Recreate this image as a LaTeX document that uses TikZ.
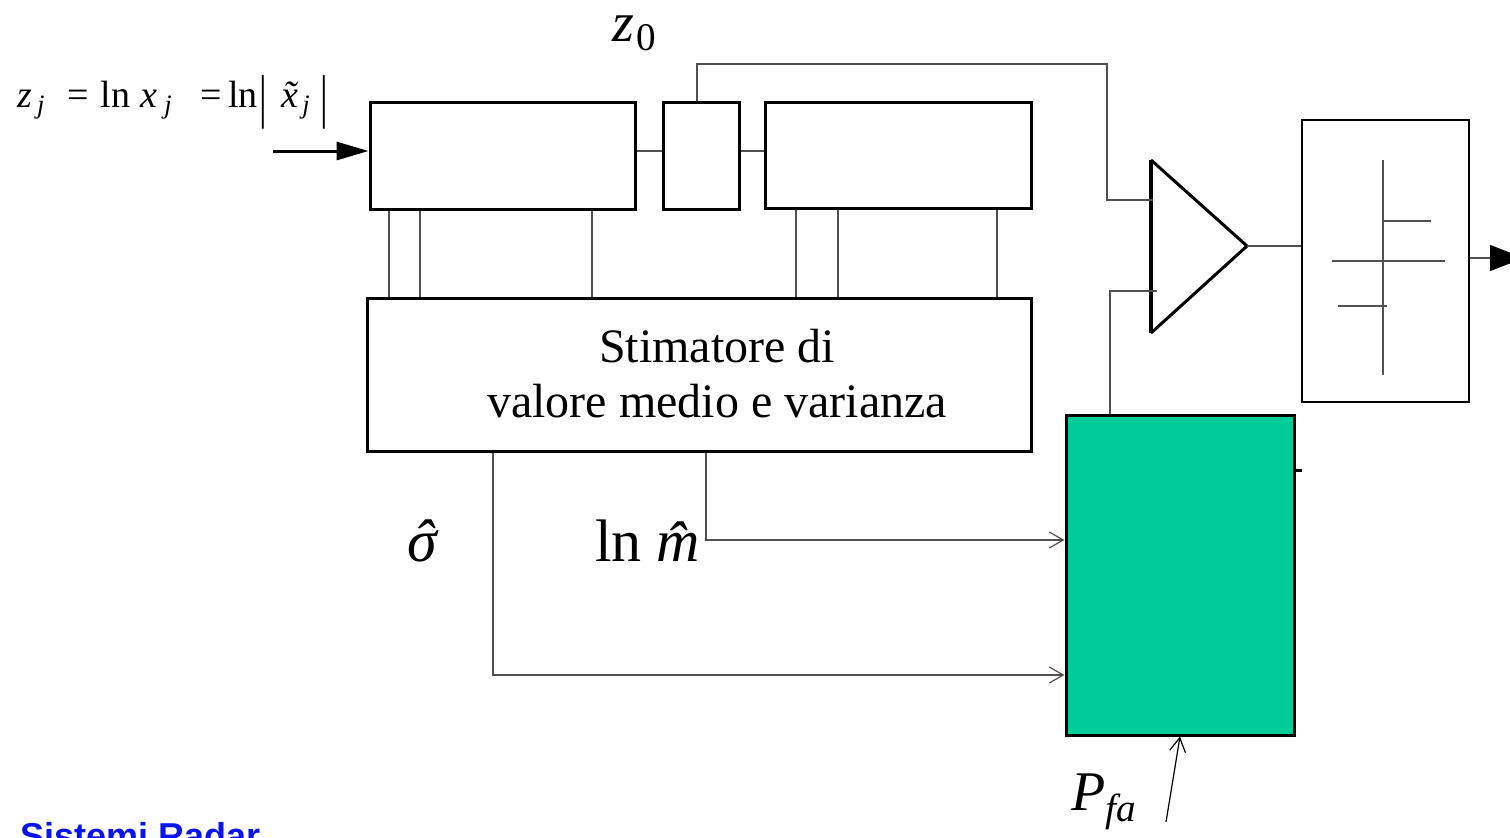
\documentclass[tikz,border=0pt]{standalone}
\usepackage{fontspec}
\setmainfont{Liberation Serif}
\newfontfamily\sansb{Liberation Sans}
\usepackage{graphicx}
\usetikzlibrary{arrows.meta,calc}
\definecolor{gfill}{HTML}{00CC99}
\definecolor{thinc}{HTML}{505050}
\definecolor{radarblue}{HTML}{0A14F0}
\newcommand{\tallbar}{\raisebox{-0.22em}{\scalebox{1}[1.55]{|}}}
\begin{document}
\begin{tikzpicture}[x=0.5pt,y=-0.5pt,
  blk/.style={draw, line width=1.5pt, inner sep=0pt},
  thinbox/.style={draw, line width=0.7pt, inner sep=0pt},
  thinl/.style={draw=thinc, line width=0.6pt},
  openarr/.style={thinl, -{Straight Barb[length=7pt,width=8pt]}},
  lbl/.style={inner sep=0pt}]
\useasboundingbox (0,0) rectangle (1510,837);
% blocks
\node[blk, minimum width=132.5pt, minimum height=53.5pt] (A) at (502.5,155.5) {};
\node[blk, minimum width=38pt, minimum height=53.5pt] (B) at (701,155.5) {};
\node[blk, minimum width=133pt, minimum height=53pt] (C) at (898,155) {};
\node[blk, minimum width=332pt, minimum height=76.5pt] (S) at (699,374.5) {};
\node[lbl, align=center, font=\fontsize{24}{27.5}\selectfont] (St) at (717,374) {Stimatore di\\valore medio e varianza};
\node[blk, fill=gfill, minimum width=114pt, minimum height=160pt] (G) at (1180,575) {};
\node[thinbox, minimum width=83.5pt, minimum height=141pt] (D) at (1385.5,261) {};
% comparator triangle
\coordinate (T1) at (1151,160);
\coordinate (T2) at (1151,333);
\coordinate (Tap) at (1247,246);
\coordinate (tin1) at (1153,200);
\coordinate (tin2) at (1157,291);
\draw[line width=2pt] (T1) -- (T2);
\draw[line width=1.5pt] (T1) -- (Tap) -- (T2);
% staircase symbol inside D
\draw[thinl] (1383,160) -- (1383,375);
\draw[thinl] (1383,221) -- (1431,221);
\draw[thinl] (1332,261) -- (1445,261);
\draw[thinl] (1338,306) -- (1387,306);
% labels
\node[lbl, anchor=west, font=\fontsize{19}{21}\selectfont] (eq) at (17,102)
  {\textit{z}\hspace{2.5pt}\textsubscript{\textit{j}}\hspace{11pt}=\hspace{6pt}ln\hspace{5pt}\textit{x}\hspace{3.5pt}\textsubscript{\textit{j}}\hspace{14pt}=\hspace{3pt}ln\hspace{1pt}\tallbar\hspace{7pt}\textit{x\llap{˜\hspace{0.06em}}}\hspace{2pt}\textsubscript{\textit{j}}\hspace{5pt}\tallbar};
\node[lbl, font=\fontsize{28}{30}\selectfont] (z0) at (635,33) {\textit{z}\hspace{1pt}\textsubscript{0}};
\node[lbl, font=\fontsize{30}{32}\selectfont] (sig) at (422,541) {\textit{σ\llap{ˆ\hspace{0.06em}}}};
\node[lbl, font=\fontsize{30}{32}\selectfont] (lnm) at (659,541) {ln \textit{m̂}};
\node[lbl, font=\fontsize{28}{30}\selectfont] (pfa) at (1104,802) {\textit{P}\textsubscript{\textit{fa}}};
\node[anchor=north west, inner sep=0pt, text=radarblue, font=\sansb\bfseries\fontsize{18}{20}\selectfont] (sr) at (20,822) {Sistemi Radar};
% input arrow
\coordinate (in) at (273,151);
\draw[line width=1.5pt, -{Triangle[length=16pt,width=9pt]}] (in) -- (in -| A.west);
% links between the top blocks
\draw[thinl] (A.east |- 0,151) -- (B.west |- 0,151);
\draw[thinl] (B.east |- 0,151) -- (C.west |- 0,151);
% z0 tap to comparator
\coordinate (k1) at (1107,64);
\draw[thinl] (B.north -| 697,0) |- (k1) |- (tin1);
% threshold to comparator
\draw[thinl] (G.north -| 1110,0) |- (tin2);
% comparator to D and output
\draw[thinl] (Tap) -- (Tap -| D.west);
\coordinate (out) at (1524,258);
\draw[thinl, -{Triangle[length=17pt,width=13pt,color=black]}] (D.east |- out) -- (out);
\draw[line width=1.5pt] (G.east |- 0,470) -- ++(6,0);
% block to estimator links
\foreach \xx in {389,420,592} \draw[thinl] (A.south -| \xx,0) -- (S.north -| \xx,0);
\foreach \xx in {796,838,997} \draw[thinl] (C.south -| \xx,0) -- (S.north -| \xx,0);
% estimator outputs
\draw[openarr] (S.south -| 493,0) |- (G.west |- 0,675);
\draw[openarr] (S.south -| 706,0) |- (G.west |- 0,540);
% Pfa input
\coordinate (pf) at (1166,822);
\draw[openarr, draw=black] (pf) -- (G.south);
\end{tikzpicture}
\end{document}
